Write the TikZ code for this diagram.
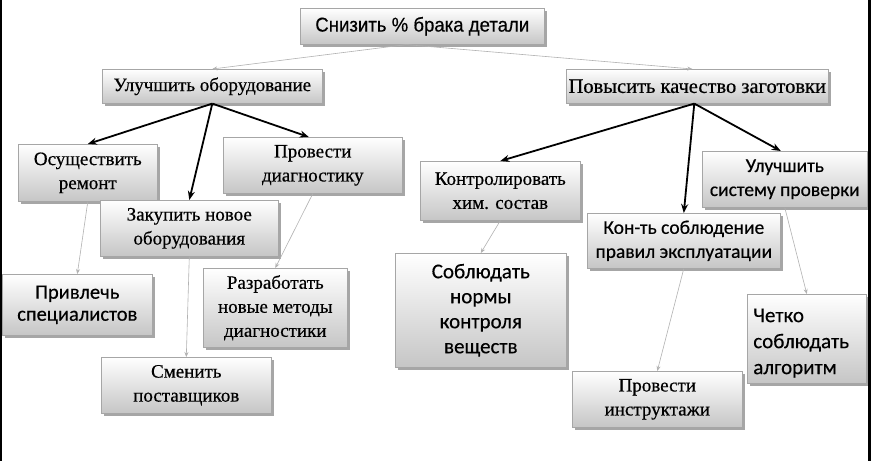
\documentclass[tikz,border=0pt]{standalone}
\usepackage{fontspec}
\setmainfont{Liberation Serif}[FakeBold=0.5]
\newfontfamily\calib{Carlito}[FakeBold=0.4]
\newfontfamily\narrowsans{Liberation Sans}[FakeStretch=0.93,FakeBold=0.4]
\usetikzlibrary{shadows,arrows.meta,calc}
\begin{document}
\begin{tikzpicture}[x=1pt,y=-1pt,
  box/.style={draw=gray!70, line width=0.6pt, top color=white, bottom color=gray!45,
    drop shadow={shadow xshift=2.5pt,shadow yshift=-2.5pt,opacity=0.35,fill=black},
    inner sep=0pt, anchor=north west, align=center},
  serif/.style={font=\fontsize{19}{24}\selectfont},
  sans/.style={font=\calib\fontsize{19.5}{24}\selectfont},
  bigsans/.style={font=\calib\fontsize{21}{26}\selectfont},
  mainarrow/.style={-{Stealth[length=9pt,width=7pt]}, line width=1.8pt, black},
  subarrow/.style={-{Stealth[length=5pt,width=4pt]}, line width=0.6pt, gray!60},
]
\useasboundingbox (0,0) rectangle (871,461);
\fill[white] (0,0) rectangle (871,461);
\fill[black] (0,0) rectangle (1.5,461);
\fill[black] (868,0) rectangle (871,461);

\node[box, font=\narrowsans\fontsize{20}{24}\selectfont, minimum width=244pt, minimum height=36pt] (top) at (300,8) {Снизить \% брака детали};
\node[box, serif, minimum width=220pt, minimum height=34pt] (ul) at (102,69) {Улучшить оборудование};
\node[box, font=\fontsize{20.5}{24}\selectfont, minimum width=262pt, minimum height=34pt] (pov) at (566,69) {Повысить качество заготовки};

\node[box, serif, minimum width=139pt, minimum height=57pt] (osu) at (18,144) {Осуществить\\ремонт};
\node[box, serif, minimum width=179pt, minimum height=56pt] (prov) at (223,137) {Провести\\диагностику};
\node[box, serif, minimum width=178pt, minimum height=56pt] (zak) at (100,200) {Закупить новое\\оборудования};
\node[box, font=\calib\fontsize{20.5}{22}\selectfont, minimum width=150pt, minimum height=61pt] (priv) at (2,274) {Привлечь\\специалистов};
\node[box, serif, minimum width=144pt, minimum height=79pt] (razr) at (203,268) {Разработать\\новые методы\\диагностики};
\node[box, serif, minimum width=170pt, minimum height=56pt] (smen) at (101,357) {Сменить\\поставщиков};

\node[box, serif, minimum width=160pt, minimum height=59pt] (kontr) at (420,161) {Контролировать\\хим. состав};
\node[box, sans, minimum width=165pt, minimum height=56pt] (ulsys) at (702,151) {Улучшить\\систему проверки};
\node[box, sans, minimum width=193pt, minimum height=55pt] (konts) at (587,213) {Кон-ть соблюдение\\правил эксплуатации};
\node[box, font=\calib\fontsize{21}{25}\selectfont, minimum width=171pt, minimum height=114pt] (sobl) at (395,253) {Соблюдать\\нормы\\контроля\\веществ};
\node[box, bigsans, align=left, minimum width=119pt, minimum height=89pt, text width=107pt, inner xsep=6pt] (chet) at (747,294) {\rule{0pt}{22pt}Четко\\соблюдать\\алгоритм};
\node[box, serif, minimum width=170pt, minimum height=56pt] (instr) at (572,371) {Провести\\инструктажи};

\draw[subarrow] ($(top.south)+(-16,0)$) -- (ul.north);
\draw[subarrow] ($(top.south)+(-16,0)$) -- ($(pov.north)+(-5,0)$);

\draw[mainarrow] (ul.south) -- (osu.north);
\draw[mainarrow] (ul.south) -- (zak.north);
\draw[mainarrow] (ul.south) -- ($(prov.north)+(-4,0)$);
\draw[mainarrow] ($(pov.south)+(-3,0)$) -- (kontr.north);
\draw[mainarrow] ($(pov.south)+(-3,0)$) -- (konts.north);
\draw[mainarrow] ($(pov.south)+(-3,0)$) -- ($(ulsys.north)+(-4,0)$);

\draw[subarrow] (osu.south) -- (priv.north);
\draw[subarrow] (prov.south) -- (razr.north);
\draw[subarrow] (zak.south) -- (smen.north);
\draw[subarrow] (kontr.south) -- (sobl.north);
\draw[subarrow] (konts.south) -- (instr.north);
\draw[subarrow] (ulsys.south) -- (chet.north);
\end{tikzpicture}
\end{document}
